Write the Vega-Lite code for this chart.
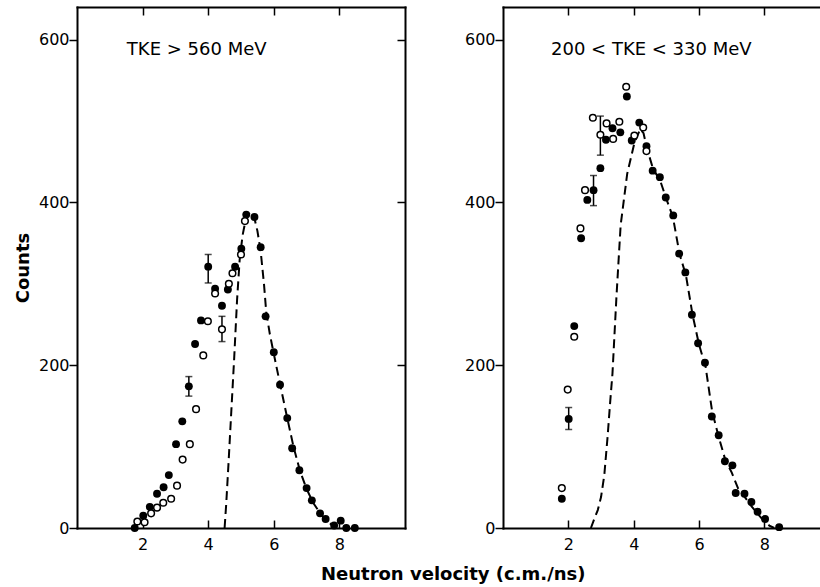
{
  "$schema": "https://vega.github.io/schema/vega-lite/v6.json",
  "padding": {"left": 14, "top": 6, "right": 0, "bottom": 0},
  "background": "white",
  "config": {
    "view": {"stroke": null},
    "axis": {"domainColor": "black", "domainWidth": 2, "domainCap": "square", "tickColor": "black", "tickWidth": 1.5, "labelFont": "DejaVu Sans", "labelFontSize": 16, "labelColor": "black", "grid": false, "titleFont": "DejaVu Sans", "titleFontSize": 18, "titleFontWeight": "bold", "titleColor": "black"},
    "title": {"font": "DejaVu Sans", "fontSize": 18, "fontWeight": "bold", "color": "black"}
  },
  "title": {"text": "Neutron velocity (c.m./ns)", "orient": "bottom", "anchor": "middle", "dx": 36, "offset": 14},
  "spacing": 58,
  "datasets": {
    "left": [
      {"v": 1.76, "c": 0, "s": "filled"}, {"v": 2.02, "c": 15, "s": "filled"}, {"v": 2.22, "c": 26, "s": "filled"}, {"v": 2.44, "c": 42, "s": "filled"}, {"v": 2.64, "c": 50, "s": "filled"}, {"v": 2.8, "c": 65, "s": "filled"}, {"v": 3.02, "c": 103, "s": "filled"}, {"v": 3.21, "c": 131, "s": "filled"}, {"v": 3.41, "c": 174, "s": "filled"}, {"v": 3.6, "c": 226, "s": "filled"}, {"v": 3.78, "c": 255, "s": "filled"}, {"v": 4.0, "c": 321, "s": "filled"}, {"v": 4.21, "c": 294, "s": "filled"}, {"v": 4.42, "c": 273, "s": "filled"}, {"v": 4.6, "c": 293, "s": "filled"}, {"v": 4.82, "c": 321, "s": "filled"}, {"v": 5.01, "c": 343, "s": "filled"}, {"v": 5.16, "c": 385, "s": "filled"}, {"v": 5.41, "c": 382, "s": "filled"}, {"v": 5.6, "c": 345, "s": "filled"}, {"v": 5.75, "c": 260, "s": "filled"}, {"v": 6.0, "c": 216, "s": "filled"}, {"v": 6.19, "c": 176, "s": "filled"}, {"v": 6.41, "c": 135, "s": "filled"}, {"v": 6.56, "c": 98, "s": "filled"}, {"v": 6.78, "c": 71, "s": "filled"}, {"v": 7.0, "c": 49, "s": "filled"}, {"v": 7.16, "c": 34, "s": "filled"}, {"v": 7.41, "c": 18, "s": "filled"}, {"v": 7.58, "c": 11, "s": "filled"}, {"v": 7.84, "c": 3, "s": "filled"}, {"v": 8.04, "c": 9, "s": "filled"}, {"v": 8.21, "c": 0, "s": "filled"}, {"v": 8.47, "c": 0, "s": "filled"},
      {"v": 1.84, "c": 8, "s": "open"}, {"v": 2.06, "c": 7, "s": "open"}, {"v": 2.26, "c": 18, "s": "open"}, {"v": 2.44, "c": 25, "s": "open"}, {"v": 2.63, "c": 31, "s": "open"}, {"v": 2.87, "c": 36, "s": "open"}, {"v": 3.05, "c": 52, "s": "open"}, {"v": 3.22, "c": 84, "s": "open"}, {"v": 3.44, "c": 103, "s": "open"}, {"v": 3.63, "c": 146, "s": "open"}, {"v": 3.85, "c": 212, "s": "open"}, {"v": 3.99, "c": 254, "s": "open"}, {"v": 4.21, "c": 288, "s": "open"}, {"v": 4.42, "c": 244, "s": "open"}, {"v": 4.63, "c": 300, "s": "open"}, {"v": 4.74, "c": 313, "s": "open"}, {"v": 5.0, "c": 336, "s": "open"}, {"v": 5.12, "c": 377, "s": "open"},
      {"v": 3.41, "lo": 162, "hi": 186, "s": "err"}, {"v": 4.0, "lo": 301, "hi": 336, "s": "err"}, {"v": 4.42, "lo": 229, "hi": 260, "s": "err"},
      {"v": 4.5, "c": 0, "s": "fit"}, {"v": 4.55, "c": 30, "s": "fit"}, {"v": 4.62, "c": 80, "s": "fit"}, {"v": 4.7, "c": 140, "s": "fit"}, {"v": 4.79, "c": 207, "s": "fit"}, {"v": 4.88, "c": 280, "s": "fit"}, {"v": 4.96, "c": 330, "s": "fit"}, {"v": 5.05, "c": 360, "s": "fit"}, {"v": 5.15, "c": 380, "s": "fit"}, {"v": 5.28, "c": 388, "s": "fit"}, {"v": 5.4, "c": 382, "s": "fit"}, {"v": 5.5, "c": 365, "s": "fit"}, {"v": 5.6, "c": 340, "s": "fit"}, {"v": 5.7, "c": 300, "s": "fit"}, {"v": 5.77, "c": 265, "s": "fit"}, {"v": 5.88, "c": 238, "s": "fit"}, {"v": 6.0, "c": 214, "s": "fit"}, {"v": 6.2, "c": 175, "s": "fit"}, {"v": 6.4, "c": 137, "s": "fit"}, {"v": 6.6, "c": 100, "s": "fit"}, {"v": 6.8, "c": 70, "s": "fit"}, {"v": 7.0, "c": 48, "s": "fit"}, {"v": 7.2, "c": 31, "s": "fit"}, {"v": 7.4, "c": 19, "s": "fit"}, {"v": 7.6, "c": 9, "s": "fit"}, {"v": 7.8, "c": 3, "s": "fit"}, {"v": 7.9, "c": 0, "s": "fit"},
      {"v": 1.52, "c": 587, "s": "label", "t": "TKE  > 560 MeV"}
    ],
    "right": [
      {"v": 1.8, "c": 36, "s": "filled"}, {"v": 2.01, "c": 134, "s": "filled"}, {"v": 2.18, "c": 248, "s": "filled"}, {"v": 2.39, "c": 356, "s": "filled"}, {"v": 2.58, "c": 403, "s": "filled"}, {"v": 2.77, "c": 415, "s": "filled"}, {"v": 2.98, "c": 442, "s": "filled"}, {"v": 3.15, "c": 477, "s": "filled"}, {"v": 3.35, "c": 491, "s": "filled"}, {"v": 3.59, "c": 486, "s": "filled"}, {"v": 3.79, "c": 530, "s": "filled"}, {"v": 3.94, "c": 476, "s": "filled"}, {"v": 4.17, "c": 498, "s": "filled"}, {"v": 4.39, "c": 469, "s": "filled"}, {"v": 4.58, "c": 439, "s": "filled"}, {"v": 4.8, "c": 431, "s": "filled"}, {"v": 4.98, "c": 406, "s": "filled"}, {"v": 5.21, "c": 384, "s": "filled"}, {"v": 5.39, "c": 337, "s": "filled"}, {"v": 5.58, "c": 314, "s": "filled"}, {"v": 5.78, "c": 262, "s": "filled"}, {"v": 5.97, "c": 227, "s": "filled"}, {"v": 6.18, "c": 203, "s": "filled"}, {"v": 6.39, "c": 137, "s": "filled"}, {"v": 6.6, "c": 114, "s": "filled"}, {"v": 6.79, "c": 82, "s": "filled"}, {"v": 7.02, "c": 77, "s": "filled"}, {"v": 7.12, "c": 43, "s": "filled"}, {"v": 7.39, "c": 42, "s": "filled"}, {"v": 7.6, "c": 32, "s": "filled"}, {"v": 7.79, "c": 20, "s": "filled"}, {"v": 8.02, "c": 11, "s": "filled"}, {"v": 8.45, "c": 1, "s": "filled"},
      {"v": 1.8, "c": 49, "s": "open"}, {"v": 1.98, "c": 170, "s": "open"}, {"v": 2.18, "c": 235, "s": "open"}, {"v": 2.37, "c": 368, "s": "open"}, {"v": 2.51, "c": 415, "s": "open"}, {"v": 2.75, "c": 504, "s": "open"}, {"v": 2.98, "c": 483, "s": "open"}, {"v": 3.17, "c": 497, "s": "open"}, {"v": 3.37, "c": 478, "s": "open"}, {"v": 3.56, "c": 499, "s": "open"}, {"v": 3.77, "c": 542, "s": "open"}, {"v": 4.02, "c": 482, "s": "open"}, {"v": 4.29, "c": 492, "s": "open"}, {"v": 4.39, "c": 463, "s": "open"},
      {"v": 2.01, "lo": 121, "hi": 148, "s": "err"}, {"v": 2.77, "lo": 396, "hi": 433, "s": "err"}, {"v": 2.98, "lo": 458, "hi": 506, "s": "err"},
      {"v": 2.69, "c": 0, "s": "fit"}, {"v": 2.8, "c": 12, "s": "fit"}, {"v": 2.9, "c": 22, "s": "fit"}, {"v": 3.0, "c": 38, "s": "fit"}, {"v": 3.1, "c": 65, "s": "fit"}, {"v": 3.2, "c": 112, "s": "fit"}, {"v": 3.28, "c": 155, "s": "fit"}, {"v": 3.35, "c": 190, "s": "fit"}, {"v": 3.47, "c": 283, "s": "fit"}, {"v": 3.6, "c": 372, "s": "fit"}, {"v": 3.8, "c": 435, "s": "fit"}, {"v": 4.02, "c": 473, "s": "fit"}, {"v": 4.2, "c": 490, "s": "fit"}, {"v": 4.3, "c": 485, "s": "fit"}, {"v": 4.4, "c": 467, "s": "fit"}, {"v": 4.6, "c": 440, "s": "fit"}, {"v": 4.8, "c": 428, "s": "fit"}, {"v": 5.0, "c": 404, "s": "fit"}, {"v": 5.2, "c": 382, "s": "fit"}, {"v": 5.4, "c": 337, "s": "fit"}, {"v": 5.6, "c": 310, "s": "fit"}, {"v": 5.8, "c": 262, "s": "fit"}, {"v": 6.0, "c": 225, "s": "fit"}, {"v": 6.2, "c": 198, "s": "fit"}, {"v": 6.4, "c": 143, "s": "fit"}, {"v": 6.6, "c": 112, "s": "fit"}, {"v": 6.8, "c": 84, "s": "fit"}, {"v": 7.0, "c": 68, "s": "fit"}, {"v": 7.2, "c": 48, "s": "fit"}, {"v": 7.4, "c": 38, "s": "fit"}, {"v": 7.6, "c": 27, "s": "fit"}, {"v": 7.8, "c": 17, "s": "fit"}, {"v": 8.0, "c": 8, "s": "fit"}, {"v": 8.15, "c": 3, "s": "fit"}, {"v": 8.3, "c": 0, "s": "fit"},
      {"v": 1.47, "c": 587, "s": "label", "t": "200  <  TKE  <  330 MeV"}
    ]
  },
  "hconcat": [
    {
      "width": 328,
      "height": 521,
      "data": {"name": "left"},
      "resolve": {"axis": {"x": "independent", "y": "independent"}},
      "layer": [
        {
          "transform": [{"filter": "datum.s === 'fit'"}],
          "mark": {"type": "line", "color": "black", "strokeWidth": 2, "strokeDash": [9, 5]},
          "encoding": {
            "x": {"field": "v", "type": "quantitative", "scale": {"domain": [0, 10], "nice": false}, "axis": {"orient": "top", "values": [2, 4, 6, 8], "labels": false, "tickSize": -8, "title": null}},
            "y": {"field": "c", "type": "quantitative", "scale": {"domain": [0, 640], "nice": false}, "axis": {"orient": "right", "values": [200, 400, 600], "labels": false, "tickSize": -8, "title": null}}
          }
        },
        {
          "transform": [{"filter": "datum.s === 'filled'"}],
          "mark": {"type": "circle", "color": "black", "size": 62, "opacity": 1},
          "encoding": {
            "x": {"field": "v", "type": "quantitative", "scale": {"domain": [0, 10], "nice": false}, "axis": {"orient": "bottom", "values": [2, 4, 6, 8], "tickSize": -8, "labelPadding": 16, "title": null}},
            "y": {"field": "c", "type": "quantitative", "scale": {"domain": [0, 640], "nice": false}, "axis": {"orient": "left", "values": [0, 200, 400, 600], "tickSize": 8, "labelPadding": 0, "title": "Counts", "titlePadding": 6}}
          }
        },
        {
          "transform": [{"filter": "datum.s === 'err'"}],
          "mark": {"type": "errorbar", "ticks": {"size": 7, "color": "black", "thickness": 1.5}, "rule": {"color": "black", "strokeWidth": 1.5}},
          "encoding": {
            "x": {"field": "v", "type": "quantitative", "scale": {"domain": [0, 10], "nice": false}, "axis": null},
            "y": {"field": "lo", "type": "quantitative", "scale": {"domain": [0, 640], "nice": false}, "axis": null},
            "y2": {"field": "hi"}
          }
        },
        {
          "transform": [{"filter": "datum.s === 'open'"}],
          "mark": {"type": "point", "shape": "circle", "fill": "white", "stroke": "black", "strokeWidth": 1.5, "size": 44, "opacity": 1, "fillOpacity": 1},
          "encoding": {
            "x": {"field": "v", "type": "quantitative", "scale": {"domain": [0, 10], "nice": false}, "axis": null},
            "y": {"field": "c", "type": "quantitative", "scale": {"domain": [0, 640], "nice": false}, "axis": null}
          }
        },
        {
          "transform": [{"filter": "datum.s === 'label'"}],
          "mark": {"type": "text", "align": "left", "baseline": "middle", "font": "DejaVu Sans", "fontSize": 18, "color": "black"},
          "encoding": {
            "x": {"field": "v", "type": "quantitative", "scale": {"domain": [0, 10], "nice": false}, "axis": null},
            "y": {"field": "c", "type": "quantitative", "scale": {"domain": [0, 640], "nice": false}, "axis": null},
            "text": {"field": "t"}
          }
        }
      ]
    },
    {
      "width": 317,
      "height": 521,
      "data": {"name": "right"},
      "resolve": {"axis": {"x": "independent", "y": "independent"}},
      "layer": [
        {
          "transform": [{"filter": "datum.s === 'fit'"}],
          "mark": {"type": "line", "color": "black", "strokeWidth": 2, "strokeDash": [9, 5]},
          "encoding": {
            "x": {"field": "v", "type": "quantitative", "scale": {"domain": [0, 9.7], "nice": false}, "axis": {"orient": "top", "values": [2, 4, 6, 8], "labels": false, "tickSize": -8, "title": null}},
            "y": {"field": "c", "type": "quantitative", "scale": {"domain": [0, 640], "nice": false}, "axis": null}
          }
        },
        {
          "transform": [{"filter": "datum.s === 'filled'"}],
          "mark": {"type": "circle", "color": "black", "size": 62, "opacity": 1},
          "encoding": {
            "x": {"field": "v", "type": "quantitative", "scale": {"domain": [0, 9.7], "nice": false}, "axis": {"orient": "bottom", "values": [2, 4, 6, 8], "tickSize": -8, "labelPadding": 16, "title": null}},
            "y": {"field": "c", "type": "quantitative", "scale": {"domain": [0, 640], "nice": false}, "axis": {"orient": "left", "values": [0, 200, 400, 600], "tickSize": 8, "labelPadding": 0, "title": null}}
          }
        },
        {
          "transform": [{"filter": "datum.s === 'err'"}],
          "mark": {"type": "errorbar", "ticks": {"size": 7, "color": "black", "thickness": 1.5}, "rule": {"color": "black", "strokeWidth": 1.5}},
          "encoding": {
            "x": {"field": "v", "type": "quantitative", "scale": {"domain": [0, 9.7], "nice": false}, "axis": null},
            "y": {"field": "lo", "type": "quantitative", "scale": {"domain": [0, 640], "nice": false}, "axis": null},
            "y2": {"field": "hi"}
          }
        },
        {
          "transform": [{"filter": "datum.s === 'open'"}],
          "mark": {"type": "point", "shape": "circle", "fill": "white", "stroke": "black", "strokeWidth": 1.5, "size": 44, "opacity": 1, "fillOpacity": 1},
          "encoding": {
            "x": {"field": "v", "type": "quantitative", "scale": {"domain": [0, 9.7], "nice": false}, "axis": null},
            "y": {"field": "c", "type": "quantitative", "scale": {"domain": [0, 640], "nice": false}, "axis": null}
          }
        },
        {
          "transform": [{"filter": "datum.s === 'label'"}],
          "mark": {"type": "text", "align": "left", "baseline": "middle", "font": "DejaVu Sans", "fontSize": 18, "color": "black"},
          "encoding": {
            "x": {"field": "v", "type": "quantitative", "scale": {"domain": [0, 9.7], "nice": false}, "axis": null},
            "y": {"field": "c", "type": "quantitative", "scale": {"domain": [0, 640], "nice": false}, "axis": null},
            "text": {"field": "t"}
          }
        }
      ]
    }
  ]
}
